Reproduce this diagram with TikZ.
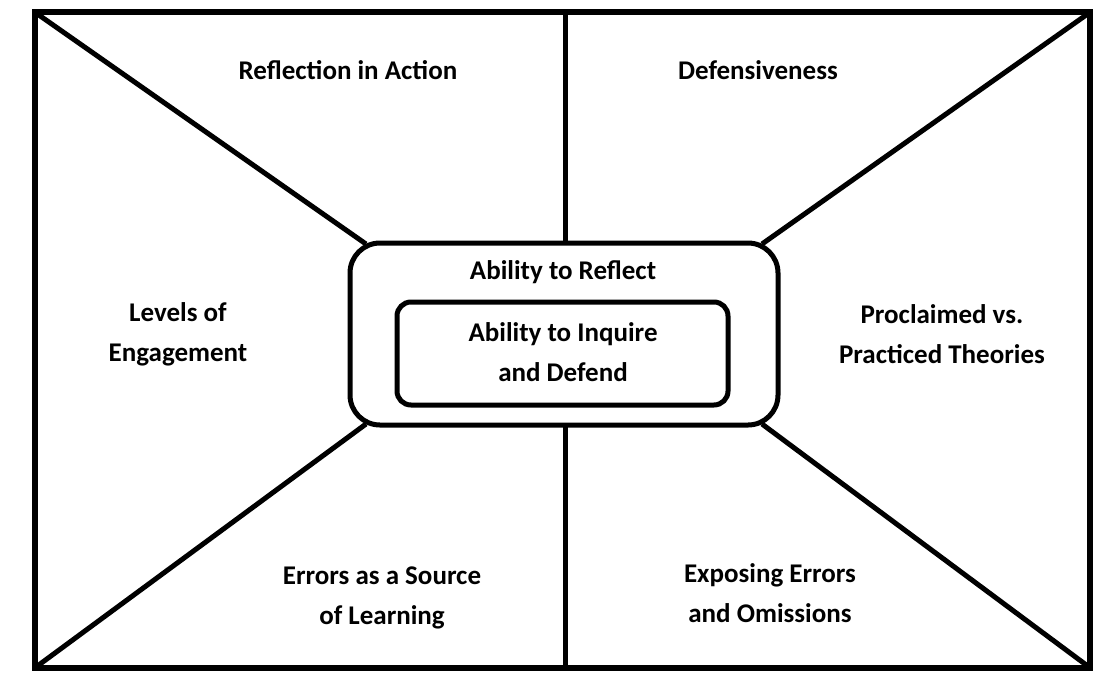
\documentclass[tikz,border=0pt]{standalone}
\usepackage{fontspec}
\setmainfont{Carlito}
\begin{document}
\begin{tikzpicture}[x=1pt,y=-1pt,
  lbl/.style={align=center,font=\fontsize{27}{40}\selectfont\bfseries,inner sep=0pt},
  ln/.style={line width=5pt}]
\useasboundingbox (0,0) rectangle (1107,697);
\node[draw,line width=6pt,minimum width=1055pt,minimum height=656pt,inner sep=0pt] (outer) at (562.5,340) {};
\node[draw,ln,rounded corners=30pt,minimum width=428pt,minimum height=182pt,inner sep=0pt] (mid) at (564,334) {};
\node[draw,ln,rounded corners=14pt,minimum width=331pt,minimum height=103pt,inner sep=0pt] (inner) at (562.5,353.5) {};
\coordinate (tl) at (36,13); \coordinate (tr) at (1089,13);
\coordinate (bl) at (36,667); \coordinate (br) at (1089,667);
\coordinate (tc) at (565,13); \coordinate (bc) at (565,667);
\coordinate (mtl) at (366,244); \coordinate (mtr) at (762,244);
\coordinate (mbl) at (366,424); \coordinate (mbr) at (762,424);
\coordinate (mtc) at (565,243.5); \coordinate (mbc) at (565,424.5);
\draw[ln] (tl) -- (mtl); \draw[ln] (tr) -- (mtr);
\draw[ln] (bl) -- (mbl); \draw[ln] (br) -- (mbr);
\draw[ln] (tc) -- (mtc); \draw[ln] (bc) -- (mbc);
\node[lbl] (t1) at (348,70) {Reflection in Action};
\node[lbl] (t2) at (758,70) {Defensiveness};
\node[lbl] (t3) at (178,334) {Levels of\\Engagement};
\node[lbl] (t4) at (942,334) {Proclaimed vs.\\Practiced Theories};
\node[lbl] (t5) at (382,598) {Errors as a Source\\of Learning};
\node[lbl] (t6) at (770,593) {Exposing Errors\\and Omissions};
\node[lbl] (t7) at (563,272) {Ability to Reflect};
\node[lbl] (t8) at (563,352) {Ability to Inquire\\and Defend};
\end{tikzpicture}
\end{document}
